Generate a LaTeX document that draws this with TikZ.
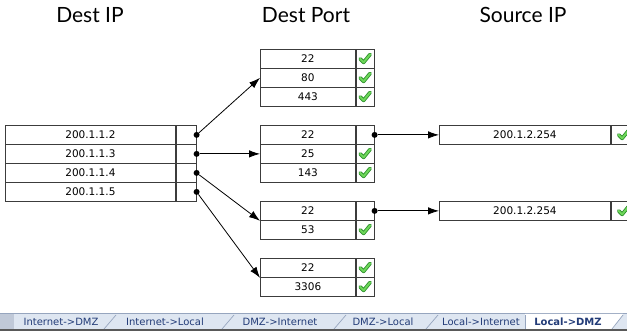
\documentclass[tikz,border=0pt]{standalone}
\usepackage{fontspec}
\setmainfont{DejaVu Sans}
\newfontfamily\headfont{Lato}
\usetikzlibrary{arrows.meta}

\definecolor{gridline}{RGB}{60,60,60}
\definecolor{tickdark}{RGB}{40,140,40}
\definecolor{ticklight}{RGB}{110,215,90}
\definecolor{tabbg}{RGB}{222,230,241}
\definecolor{tabedge}{RGB}{150,165,190}
\definecolor{tabtext}{RGB}{35,60,120}

\tikzset{
  cellbox/.style={draw=gridline, line width=0.8pt, minimum height=19pt,
    inner sep=0pt, anchor=north west, font=\fontsize{10.5}{12}\selectfont},
  valcell/.style={cellbox, minimum width=#1},
  blankcell/.style={cellbox, minimum width=#1},
  okcell/.style={cellbox, minimum width=#1,
    path picture={
      \draw[tickdark, line width=3.6pt, line cap=round, line join=round]
        ([shift={(-5,0)}]path picture bounding box.center)
        -- ++(3.4,3.5) -- ++(6.5,-8);
      \draw[ticklight, line width=2pt, line cap=round, line join=round]
        ([shift={(-5,0)}]path picture bounding box.center)
        -- ++(3.4,3.5) -- ++(6.5,-8);
    }},
  dot/.style={circle, fill=black, inner sep=0pt, minimum size=6pt},
  conn/.style={draw=black, line width=0.8pt, -{Latex[length=11pt,width=7.5pt]}},
  head/.style={font=\headfont\fontsize{21}{24}\selectfont},
  tablabel/.style={text=tabtext, font=\fontsize{10}{12}\selectfont},
}

\begin{document}
\begin{tikzpicture}[x=1pt,y=-1pt]
\useasboundingbox (0,0) rectangle (627,331);

% column headings
\node[head] (hdip)   at (90,15)  {Dest IP};
\node[head] (hdport) at (306,15) {Dest Port};
\node[head] (hdsrc)  at (523,15) {Source IP};

% destination addresses
\node[valcell=170pt] (ipa) at (5,125) {200.1.1.2};
\node[blankcell=20pt] (ipax) at (ipa.north east) {};
\node[valcell=170pt] (ipb) at (5,144) {200.1.1.3};
\node[blankcell=20pt] (ipbx) at (ipb.north east) {};
\node[valcell=170pt] (ipc) at (5,163) {200.1.1.4};
\node[blankcell=20pt] (ipcx) at (ipc.north east) {};
\node[valcell=170pt] (ipd) at (5,182) {200.1.1.5};
\node[blankcell=20pt] (ipdx) at (ipd.north east) {};

% ports for 200.1.1.2
\node[valcell=95pt] (pa1) at (260,49) {22};
\node[okcell=18pt] (pa1x) at (pa1.north east) {};
\node[valcell=95pt] (pa2) at (260,68) {80};
\node[okcell=18pt] (pa2x) at (pa2.north east) {};
\node[valcell=95pt] (pa3) at (260,87) {443};
\node[okcell=18pt] (pa3x) at (pa3.north east) {};

% ports for 200.1.1.3
\node[valcell=95pt] (pb1) at (260,125) {22};
\node[blankcell=18pt] (pb1x) at (pb1.north east) {};
\node[valcell=95pt] (pb2) at (260,144) {25};
\node[okcell=18pt] (pb2x) at (pb2.north east) {};
\node[valcell=95pt] (pb3) at (260,163) {143};
\node[okcell=18pt] (pb3x) at (pb3.north east) {};

% ports for 200.1.1.4
\node[valcell=95pt] (pc1) at (260,201) {22};
\node[blankcell=18pt] (pc1x) at (pc1.north east) {};
\node[valcell=95pt] (pc2) at (260,220) {53};
\node[okcell=18pt] (pc2x) at (pc2.north east) {};

% ports for 200.1.1.5
\node[valcell=95pt] (pd1) at (260,258) {22};
\node[okcell=18pt] (pd1x) at (pd1.north east) {};
\node[valcell=95pt] (pd2) at (260,277) {3306};
\node[okcell=18pt] (pd2x) at (pd2.north east) {};

% allowed source addresses
\node[valcell=171pt] (sa) at (439,125) {200.1.2.254};
\node[okcell=25pt] (sax) at (sa.north east) {};
\node[valcell=171pt] (sb) at (439,201) {200.1.2.254};
\node[okcell=25pt] (sbx) at (sb.north east) {};

% branch points
\node[dot] (da) at (ipax.east) {};
\node[dot] (db) at (ipbx.east) {};
\node[dot] (dc) at (ipcx.east) {};
\node[dot] (dd) at (ipdx.east) {};
\node[dot] (db1) at (pb1x.east) {};
\node[dot] (dc1) at (pc1x.east) {};

% connectors
\draw[conn] (da) -- (pa2.west);
\draw[conn] (db) -- (pb2.west);
\draw[conn] (dc) -- (pc1.south west);
\draw[conn] (dd) -- (pd1.south west);
\draw[conn] (db1) -- (sa.west);
\draw[conn] (dc1) -- (sb.west);

% worksheet tab strip
\fill[tabbg] (0,313) rectangle (627,331);
\fill[tabedge!60] (0,313) rectangle (14,331);
\draw[tabedge, line width=0.6pt] (0,313.3) -- (627,313.3);
\fill[white] (525,314) -- (525,330) -- (612,330) -- (623,314) -- cycle;
\draw[gray!70!black, line width=1.8pt] (0,330.2) -- (627,330.2);
\foreach \sx in {110,228,340,432} {
  \draw[tabedge, line width=0.7pt] (\sx-6,329) -- (\sx+6,315);
}
\draw[tabedge, line width=0.7pt] (525,329) -- (525,315);
\draw[tabedge, line width=0.7pt] (612,329) -- (623,315);
\node[tablabel] (tab1) at (61,322)  {Internet->DMZ};
\node[tablabel] (tab2) at (165,322) {Internet->Local};
\node[tablabel] (tab3) at (280,322) {DMZ->Internet};
\node[tablabel] (tab4) at (383,322) {DMZ->Local};
\node[tablabel] (tab5) at (481,322) {Local->Internet};
\node[tablabel, font=\bfseries\fontsize{10}{12}\selectfont] (tab6) at (568,322) {Local->DMZ};
\end{tikzpicture}
\end{document}
